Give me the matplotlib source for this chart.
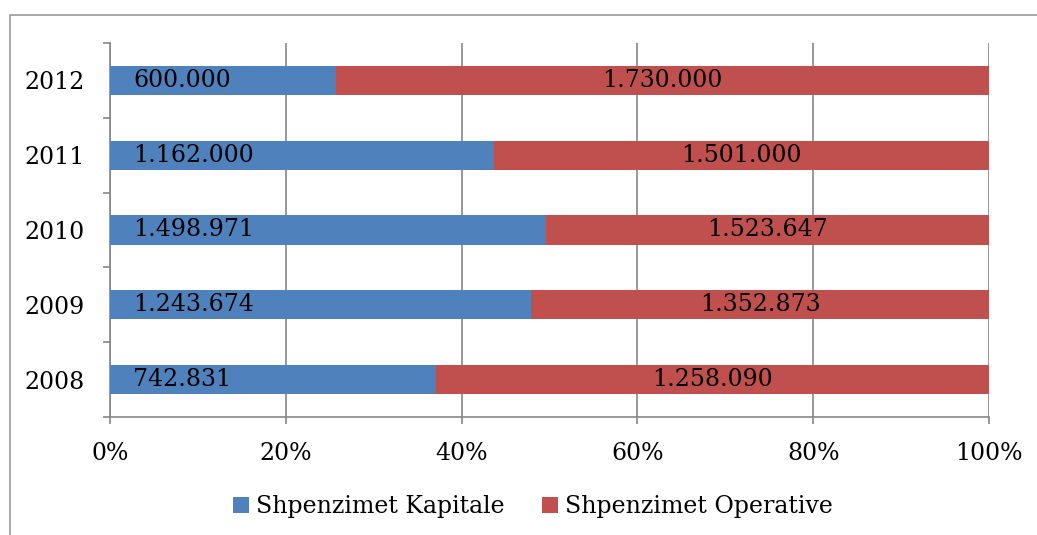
import matplotlib
matplotlib.use("Agg")
import matplotlib.pyplot as plt
import matplotlib.patches as mpatches
import numpy as np

years = ["2008", "2009", "2010", "2011", "2012"]
kapitale = [742831, 1243674, 1498971, 1162000, 600000]
operative = [1258090, 1352873, 1523647, 1501000, 1730000]
x_ticks = [0, 20, 40, 60, 80, 100]

BLUE = "#4F81BD"
RED = "#C0504D"
GRAY = "#868686"


def fmt(v):
    # format me pika si ndares mijesh
    return f"{v:,}".replace(",", ".")


def plot_expenses():
    plt.rcParams["font.family"] = ["DejaVu Serif"]
    plt.rcParams["font.size"] = 17

    fig = plt.figure(figsize=(10.37, 5.35), dpi=100)
    # kuadri gri rreth grafikut
    fig.patches.append(mpatches.Rectangle(
        (10 / 1037, -0.1), 1.2, 1.1 - 15 / 535,
        transform=fig.transFigure, fill=False, edgecolor="#999999",
        linewidth=1.2))

    ax = fig.add_axes([110 / 1037, 1 - 417 / 535, 879 / 1037, 374 / 535])

    kap = np.array(kapitale, dtype=float)
    op = np.array(operative, dtype=float)
    total = kap + op
    kap_pct = kap / total * 100
    op_pct = op / total * 100
    y = np.arange(len(years))

    ax.barh(y, kap_pct, height=0.39, color=BLUE, label="Shpenzimet Kapitale",
            zorder=3)
    ax.barh(y, op_pct, left=kap_pct, height=0.39, color=RED,
            label="Shpenzimet Operative", zorder=3)

    for i in range(len(years)):
        ax.annotate(fmt(kapitale[i]), xy=(0, y[i]), xytext=(16.5, 0),
                    textcoords="offset points", ha="left", va="center",
                    fontsize=17, zorder=4)
        ax.text(kap_pct[i] + op_pct[i] / 2, y[i], fmt(operative[i]),
                ha="center", va="center", fontsize=17, zorder=4)

    ax.set_xlim(0, 100)
    ax.set_ylim(-0.5, len(years) - 0.5)
    ax.set_xticks(x_ticks)
    ax.set_xticklabels([f"{t}%" for t in x_ticks])
    ax.set_yticks(y)
    ax.set_yticklabels(years)
    ax.set_yticks(np.arange(-0.5, len(years)), minor=True)

    ax.tick_params(axis="y", which="major", length=0, pad=18)
    ax.tick_params(axis="y", which="minor", length=5, color=GRAY, width=1.2)
    ax.tick_params(axis="x", length=5, color=GRAY, width=1.2, pad=13)

    ax.xaxis.grid(True, color=GRAY, linewidth=1.2, zorder=0)
    ax.set_axisbelow(True)
    for s in ["top", "right"]:
        ax.spines[s].set_visible(False)
    for s in ["left", "bottom"]:
        ax.spines[s].set_color(GRAY)
        ax.spines[s].set_linewidth(1.2)

    fig.legend(loc="center", bbox_to_anchor=(0.514, 1 - 507 / 535), ncol=2,
               frameon=False, fontsize=17, handlelength=0.65, handleheight=0.65,
               handletextpad=0.3, columnspacing=1.6)

    fig.savefig("out.png", dpi=100)


if __name__ == "__main__":
    plot_expenses()
